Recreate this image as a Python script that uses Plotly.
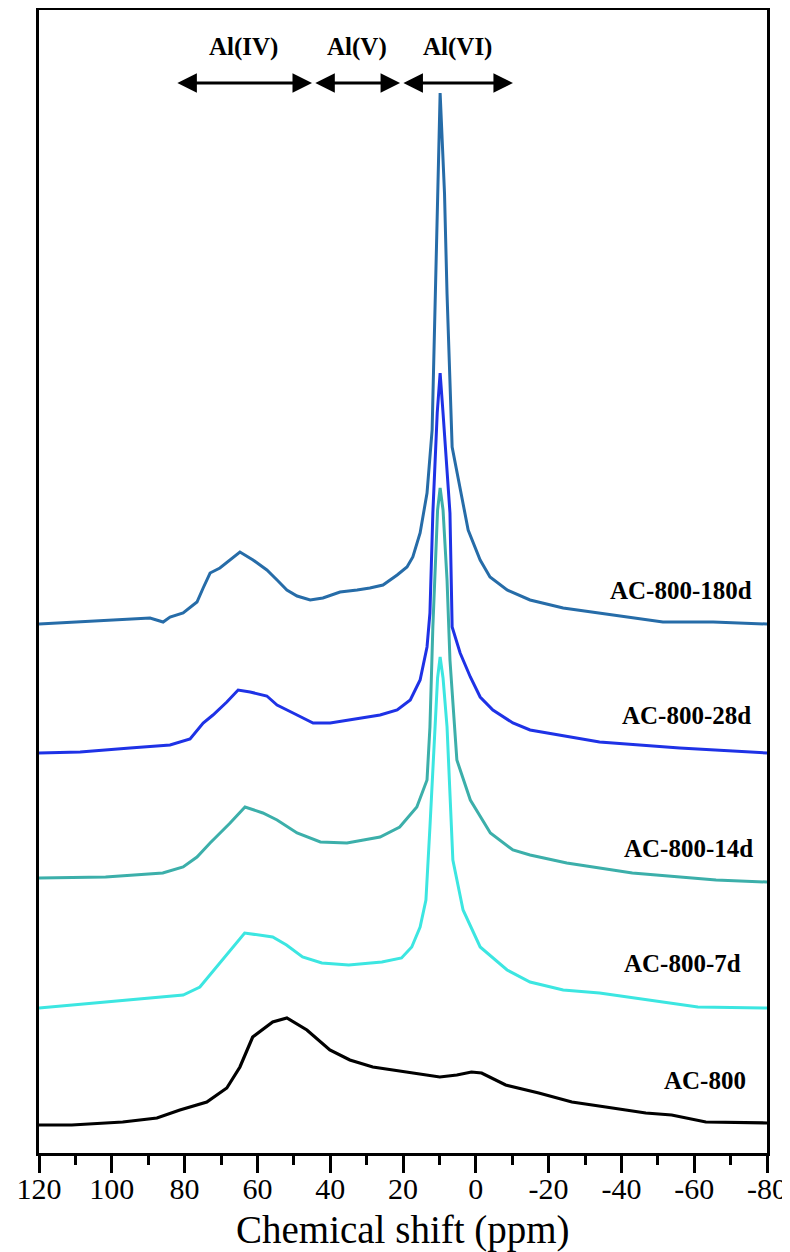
import plotly.graph_objects as go

# ---------------- data ----------------
tick_vals = [120, 100, 80, 60, 40, 20, 0, -20, -40, -60, -80]
tick_text = ["120", "100", "80", "60", "40", "20", "0", "-20", "-40", "-60", "-80"]
x_title = "Chemical shift (ppm)"

names = ["AC-800", "AC-800-7d", "AC-800-14d", "AC-800-28d", "AC-800-180d"]
offsets = [28, 145, 273, 400, 529]

ac800_x = [120, 111, 97, 87.6, 81.3, 73.9, 68.4, 64.8, 61.3, 55.8, 51.9, 46.4, 40.1, 34.6,
           28.3, 19, 9.9, 5.2, 1.2, -1.6, -8.2, -17.3, -26.4, -35.7, -46.7, -53.8, -63.2, -80]
ac800_y = [0, 0, 3, 7, 15, 23, 37, 58, 88, 103, 107, 95, 75, 65,
           58, 53, 48, 50, 53, 52, 40, 32, 23, 18, 12, 10, 3, 2]

d7_x = [120, 89.5, 80.4, 75.8, 71.2, 66.8, 63.5, 55.8, 52, 47.6, 42.3, 34.9, 25.8, 20.4,
        17.6, 15.3, 13.7, 12.6, 11.2, 10.5, 9.8, 9.0, 7.9, 6.3, 3.5, -1.2, -8.6, -14.9,
        -24, -34, -61, -80]
d7_y = [0, 10, 13, 21, 41, 61, 75, 71, 63, 51, 45, 43, 46, 50,
        61, 81, 108, 181, 281, 330, 351, 330, 281, 148, 98, 61, 38, 26,
        18, 15, 1, 0]

d14_x = [120, 101.7, 86, 80.4, 76.6, 73, 67.5, 63.4, 58.5, 54.6, 49.1, 42.7, 35.4, 26.3,
         20.9, 16.2, 13.4, 12.6, 11.8, 11.2, 10.5, 9.8, 9.0, 7.9, 7.1, 5.2, 1.5, -4,
         -10.2, -14.9, -25, -43, -66, -80]
d14_y = [2, 3, 7, 13, 23, 37, 57, 73, 67, 60, 47, 38, 37, 43,
         53, 73, 100, 153, 253, 300, 370, 392, 370, 300, 220, 120, 80, 47,
         30, 25, 17, 7, 0, -2]

d28_x = [120, 108.7, 95, 84, 78.5, 74.9, 72.2, 68.4, 65.3, 62, 57.4, 54.6, 50.2, 44.7,
         40, 34.6, 26.3, 21.6, 18, 15.3, 13.4, 12.6, 11.8, 10.6, 9.8, 9.0, 7.1, 6.5,
         4.3, 1.5, -1.2, -4.7, -10.2, -14.9, -34, -56, -80]
d28_y = [0, 1, 5, 8, 14, 30, 38, 51, 63, 61, 57, 48, 40, 30,
         30, 33, 38, 43, 53, 73, 106, 140, 240, 340, 380, 340, 240, 126,
         100, 76, 56, 43, 30, 23, 11, 5, 0]

d180_x = [120, 100, 89.5, 85.9, 84, 80.4, 76.6, 74.9, 73, 70.3, 67.5, 64.8, 61.2, 57.4,
          54.6, 51.9, 49.1, 45.5, 42, 37.3, 32.6, 29.1, 25.5, 21.6, 18.9, 17.3, 15.3,
          13.4, 12, 11.4, 10.6, 9.8, 8.6, 7.9, 6.5, 4.3, 2.1, -1.2, -3.9, -8.6, -14.9,
          -24, -37.7, -51.4, -65.2, -80]
d180_y = [0, 4, 6, 2, 7, 11, 22, 36, 51, 56, 64, 72, 64, 54,
          44, 34, 28, 24, 26, 32, 34, 36, 39, 49, 57, 67, 91,
          131, 194, 290, 431, 531, 431, 330, 177, 137, 94, 64, 47, 34, 24,
          16, 9, 2, 2, 0]

series_x = [ac800_x, d7_x, d14_x, d28_x, d180_x]
series_y = [ac800_y, d7_y, d14_y, d28_y, d180_y]

# label positions (ppm, height)
label_x = [-51.2, -40.2, -40.2, -39.6, -36.3]
label_y = [73, 190, 305, 438, 563]

regions = ["Al(IV)", "Al(V)", "Al(VI)"]
region_start = [82.4, 44.5, 20.3]
region_end = [45.0, 20.8, -10.2]

# ---------------- styles ----------------
colors = ["#000000", "#3ce6e1", "#3cafaa", "#1e32e6", "#266ca8"]
serif = "Liberation Serif, Times New Roman, serif"

fig = go.Figure()
for i in range(len(names)):
    fig.add_trace(go.Scatter(
        x=series_x[i],
        y=[v + offsets[i] for v in series_y[i]],
        mode="lines",
        name=names[i],
        line=dict(color=colors[i], width=3.2 if i == 0 else 3),
        showlegend=False,
    ))

for i in range(len(names)):
    fig.add_annotation(
        x=label_x[i], y=label_y[i], xref="x", yref="y",
        text=names[i], showarrow=False, xanchor="left", yanchor="middle",
        font=dict(family=serif, size=25, color="black", weight="bold"),
    )

arrow_level = 1070
text_level = 1106
for i in range(len(regions)):
    fig.add_annotation(
        x=region_end[i], y=arrow_level, ax=region_start[i], ay=arrow_level,
        xref="x", yref="y", axref="x", ayref="y",
        text="", showarrow=True, arrowside="end+start",
        arrowhead=2, arrowsize=1.3, arrowwidth=3, arrowcolor="black",
    )
    fig.add_annotation(
        x=(region_start[i] + region_end[i]) / 2, y=text_level, xref="x", yref="y",
        text=regions[i], showarrow=False,
        font=dict(family=serif, size=25, color="black", weight="bold"),
    )

# axis title as an annotation placed below the tick labels
fig.add_annotation(
    x=0.5, y=-0.0674, xref="paper", yref="paper", text=x_title, showarrow=False,
    xanchor="center", yanchor="middle",
    font=dict(family=serif, size=39, color="black"),
)

# the page adds an 8px body margin, so the figure is sized/placed to compensate
fig.update_layout(
    width=790, height=1244,
    margin=dict(l=31, r=31, t=2, b=99, autoexpand=False),
    paper_bgcolor="white", plot_bgcolor="white",
    font=dict(family=serif, color="black"),
)
fig.update_xaxes(
    range=[120, -80], tickmode="array", tickvals=tick_vals, ticktext=tick_text,
    ticks="outside", ticklen=17, tickwidth=3, tickcolor="black",
    minor=dict(tickmode="linear", tick0=0, dtick=10, ticks="outside",
               ticklen=9, tickwidth=3, tickcolor="black"),
    showline=True, linewidth=3, linecolor="black", mirror=True,
    showgrid=False, zeroline=False, automargin=False, ticklabeloverflow="allow",
    ticklabelstandoff=-10,
    tickfont=dict(family=serif, size=30, color="black"),
)
fig.update_yaxes(
    range=[0, 1143], showticklabels=False, ticks="",
    showline=True, linewidth=3, linecolor="black", mirror=True,
    showgrid=False, zeroline=False, automargin=False,
)

fig.write_html("out.html")
